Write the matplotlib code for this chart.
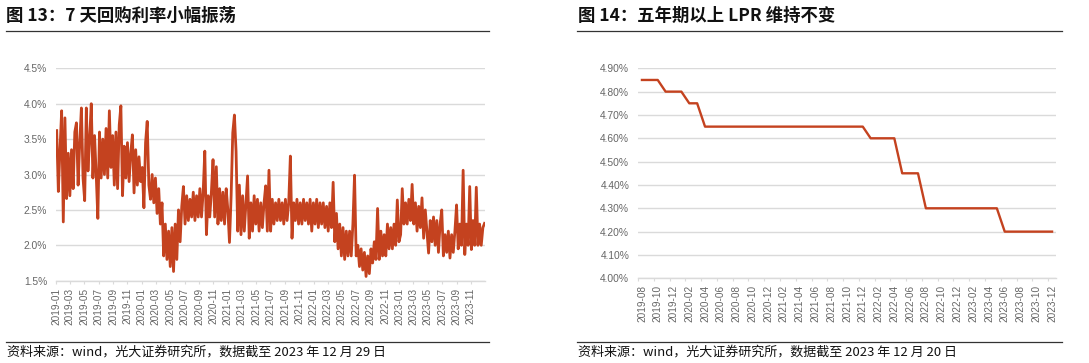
import matplotlib
matplotlib.use('Agg')
import matplotlib.pyplot as plt
import matplotlib.dates as mdates
from matplotlib.ticker import FuncFormatter, FixedLocator
from matplotlib.lines import Line2D
import numpy as np
import pandas as pd

# ---------------- data ----------------
# 7-day repo rate (%), weekly readings (Fridays)
r2019 = [3.62, 2.76, 3.35, 3.90,
         2.33, 3.80, 2.66, 3.30,
         2.70, 3.35, 2.80, 3.60, 3.73,
         2.85, 3.45, 3.94, 2.95,
         2.63, 3.94, 3.05, 3.50, 4.00,
         2.95, 3.55, 3.00, 2.38,
         3.60, 2.95, 3.50, 3.00,
         3.65, 2.95, 3.90, 3.10, 3.55,
         2.85, 3.60, 2.80, 3.70,
         3.97, 2.70, 3.40, 2.95,
         3.45, 2.90, 3.30, 3.56, 2.74,
         3.35, 2.85, 3.25, 2.90]
r2020 = [3.10, 2.53, 3.45, 3.75, 2.85,
         2.65, 3.00, 2.60, 2.95,
         2.45, 2.80, 2.30, 2.60,
         1.85, 2.30, 1.80, 2.20,
         1.70, 2.25, 1.63, 2.30, 1.80,
         2.50, 2.05, 2.55, 2.83,
         2.30, 2.70, 2.35, 2.65, 2.40,
         2.75, 2.35, 2.70, 2.40,
         2.80, 2.40, 2.75, 3.33,
         2.15, 2.70, 2.40, 2.75, 3.21,
         2.40, 3.11, 2.30, 2.80,
         2.35, 2.75, 2.30, 2.80]
r2021 = [2.50, 2.04, 2.70, 3.59, 3.84,
         3.33, 2.20, 2.85, 2.15,
         2.70, 2.20, 2.60, 2.98,
         2.10, 2.60, 2.20, 2.70, 2.30,
         2.65, 2.20, 2.60, 2.25,
         2.60, 2.84, 2.20, 3.06,
         2.20, 2.65, 2.30, 2.60, 2.35,
         2.65, 2.35, 2.60, 2.30,
         2.65, 2.35, 2.60, 3.26,
         2.10, 2.60, 2.35, 2.65, 2.30,
         2.60, 2.30, 2.65, 2.35,
         2.60, 2.30, 2.65, 2.20, 2.60]
r2022 = [2.30, 2.65, 2.25, 2.60,
         2.30, 2.60, 2.25, 2.55,
         2.20, 2.60, 2.25, 2.89,
         2.05, 2.45, 1.95, 2.30, 1.85,
         2.25, 1.80, 2.20, 1.85,
         2.20, 1.85, 2.30, 2.99,
         1.85, 2.00, 1.70, 1.95, 1.65,
         1.90, 1.56, 1.85, 1.60,
         1.95, 1.75, 2.05, 1.80, 2.52,
         1.80, 2.20, 1.85, 2.15,
         1.85, 2.30, 1.95, 2.25,
         1.95, 2.30, 2.00, 2.64, 2.05]
r2023 = [2.15, 2.80, 2.30, 2.60,
         2.30, 2.65, 2.35, 2.86,
         2.30, 2.60, 2.20, 2.55, 2.25,
         2.67, 2.10, 2.50, 2.20,
         1.89, 2.35, 2.05, 2.40,
         2.00, 2.35, 1.90, 2.30, 2.50,
         1.85, 2.15, 1.90, 2.20,
         1.82, 2.15, 1.90, 2.20,
         2.57, 1.95, 2.30, 2.00, 3.06,
         1.87, 2.30, 2.00, 2.83,
         1.94, 2.35, 2.00, 2.82,
         2.00, 2.30, 2.00, 2.25, 2.31]
repo_dates = pd.date_range('2019-01-04', '2023-12-29', freq='W-FRI')
repo_values = r2019 + r2020 + r2021 + r2022 + r2023
repo_ticks = pd.date_range('2019-01-01', '2023-11-01', freq='2MS')

# 5-year LPR (%), monthly 2019-08 .. 2023-12
lpr_2019 = [4.85, 4.85, 4.85, 4.80, 4.80]
lpr_2020 = [4.80, 4.75, 4.75, 4.65, 4.65, 4.65, 4.65, 4.65, 4.65, 4.65, 4.65, 4.65]
lpr_2021 = [4.65, 4.65, 4.65, 4.65, 4.65, 4.65, 4.65, 4.65, 4.65, 4.65, 4.65, 4.65]
lpr_2022 = [4.60, 4.60, 4.60, 4.60, 4.45, 4.45, 4.45, 4.30, 4.30, 4.30, 4.30, 4.30]
lpr_2023 = [4.30, 4.30, 4.30, 4.30, 4.30, 4.20, 4.20, 4.20, 4.20, 4.20, 4.20, 4.20]
lpr_values = lpr_2019 + lpr_2020 + lpr_2021 + lpr_2022 + lpr_2023
lpr_months = pd.period_range('2019-08', '2023-12', freq='M').strftime('%Y-%m').tolist()

title_left = '图 13：7 天回购利率小幅振荡'
title_right = '图 14：五年期以上 LPR 维持不变'
source_left = '资料来源：wind，光大证券研究所，数据截至 2023 年 12 月 29 日'
source_right = '资料来源：wind，光大证券研究所，数据截至 2023 年 12 月 20 日'

# ---------------- style ----------------
W, H = 1089, 363
RED = '#C4421F'
GRID = '#DADADA'
TICKC = '#666666'
CJK = ['Noto Sans CJK SC', 'DejaVu Sans']
TICKFONT = 'Liberation Sans'

fig = plt.figure(figsize=(W / 100, H / 100), dpi=100)
fig.patch.set_facecolor('white')


def px_axes(x0, x1, ytop, ybot):
    return fig.add_axes([x0 / W, 1 - ybot / H, (x1 - x0) / W, (ybot - ytop) / H])


def style(ax):
    for s in ['top', 'right', 'left']:
        ax.spines[s].set_visible(False)
    ax.spines['bottom'].set_color(GRID)
    ax.spines['bottom'].set_linewidth(1.0)
    ax.grid(axis='y', color=GRID, lw=1.0)
    ax.set_axisbelow(True)
    ax.tick_params(axis='y', length=0, pad=6.3, labelcolor=TICKC, labelsize=7.4)


# ----- left chart -----
axL = px_axes(56, 485, 68.3, 280.7)
axL.plot(repo_dates, repo_values, color=RED, lw=2.0)
axL.set_xlim(pd.Timestamp('2019-01-01'), pd.Timestamp('2023-12-31'))
axL.set_ylim(1.5, 4.5)
axL.set_yticks(np.arange(1.5, 4.51, 0.5))
axL.yaxis.set_major_formatter(FuncFormatter(lambda v, p: f'{v:.1f}%'))
axL.set_xticks(repo_ticks)
axL.xaxis.set_major_formatter(mdates.DateFormatter('%Y-%m'))
style(axL)
axL.tick_params(axis='x', length=2.5, width=0.8, color=GRID, pad=2.5,
                labelcolor=TICKC, labelsize=7.2, labelrotation=90)
for lab in axL.get_xticklabels() + axL.get_yticklabels():
    lab.set_family(TICKFONT)

# ----- right chart -----
axR = px_axes(638, 1056, 68.3, 278.3)
xs = np.arange(len(lpr_values))
axR.plot(xs, lpr_values, color=RED, lw=1.7)
axR.set_xlim(-0.5, len(lpr_values) - 0.5)
axR.set_ylim(4.0, 4.9)
axR.set_yticks(np.arange(4.0, 4.901, 0.1))
axR.yaxis.set_major_formatter(FuncFormatter(lambda v, p: f'{v:.2f}%'))
axR.set_xticks(xs[::2])
axR.set_xticklabels(lpr_months[::2])
axR.xaxis.set_minor_locator(FixedLocator(np.arange(-0.5, len(lpr_values) - 0.5, 2)))
style(axR)
axR.tick_params(axis='x', which='major', length=0, pad=4.5,
                labelcolor=TICKC, labelsize=7.2, labelrotation=90)
axR.tick_params(axis='x', which='minor', length=2.5, width=0.8, color=GRID)
for lab in axR.get_xticklabels() + axR.get_yticklabels():
    lab.set_family(TICKFONT)

# ----- titles, rules, sources -----
fig.text(6.5 / W, 1 - 16 / H, title_left, fontsize=12.5, fontweight='bold',
         family=CJK, ha='left', va='center', color='#111111')
fig.text(577.5 / W, 1 - 16 / H, title_right, fontsize=12.5, fontweight='bold',
         family=CJK, ha='left', va='center', color='#111111')
for x0, x1 in [(6, 489), (577, 1062)]:
    fig.add_artist(Line2D([x0 / W, x1 / W], [1 - 31 / H, 1 - 31 / H],
                          color='#333333', lw=0.9))
    fig.add_artist(Line2D([x0 / W, x1 / W], [1 - 342 / H, 1 - 342 / H],
                          color='#333333', lw=0.9))
fig.text(7 / W, 1 - 352.5 / H, source_left, fontsize=9.4, family=CJK,
         ha='left', va='center', color='#111111')
fig.text(577.5 / W, 1 - 352.5 / H, source_right, fontsize=9.4, family=CJK,
         ha='left', va='center', color='#111111')

fig.savefig('out.png', dpi=100, facecolor='white')
